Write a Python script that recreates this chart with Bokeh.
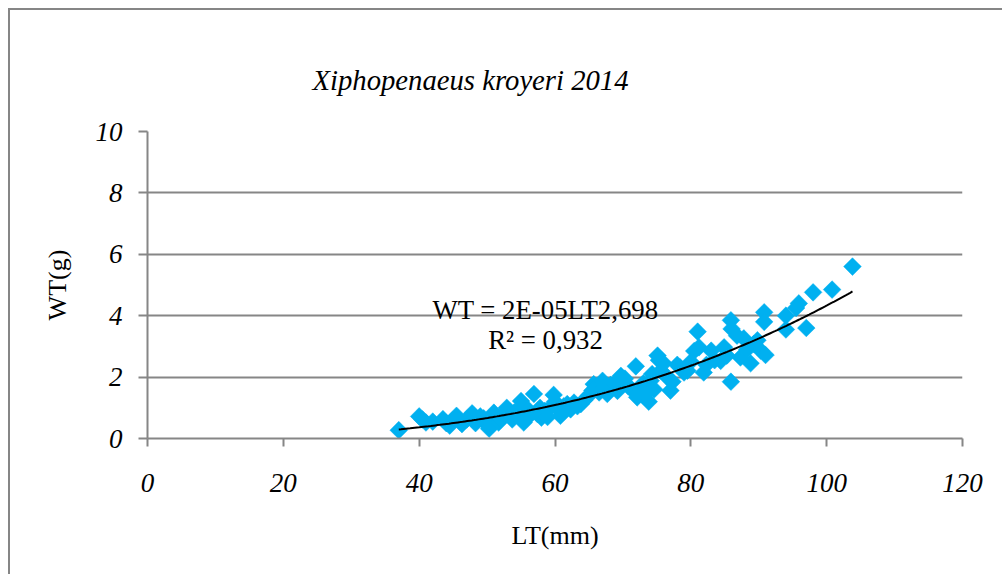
from bokeh.plotting import figure
from bokeh.models import Range1d, FixedTicker, Label
from bokeh.embed import file_html
from bokeh.resources import INLINE
import numpy as np

# ---- data ----
lt = [37, 40, 40.5, 41, 42, 43.5, 44, 44.5, 45, 45.5, 46, 46.3, 47, 47.8, 48, 48.3,
      49, 49.5, 50, 50.3, 50.5, 51, 51.5, 51.7, 52, 52.5, 52.9, 53.5, 53.7, 54, 54.5,
      55, 55.2, 55.4, 56, 56.5, 56.9, 57.4, 57.8, 58, 58.5, 58.9, 59.5, 59.8, 60, 60.5,
      60.8, 61.3, 61.8, 62.3, 62.8, 63.3, 63.8, 64.3, 65, 65.5, 65.7, 66, 66.5, 67,
      67.5, 67.7, 68.2, 68.8, 69.2, 69.7, 70.3, 70.8, 71.3, 71.9, 72.1, 72.6, 73.0,
      73.3, 73.8, 74.1, 74.3, 74.6, 75.1, 75.3, 75.6, 76, 76.5, 77, 77.3, 78, 78.4,
      79, 79.5, 80, 80.5, 81, 81.2, 81.9, 82.3, 83, 83.5, 84.4, 84.9, 85.3, 85.9, 86,
      85.9, 86.8, 87.3, 87.8, 88.3, 88.8, 89.3, 89.8, 90.3, 90.8, 90.8, 91, 94, 94,
      95.5, 95.9, 97, 98, 100.8, 103.8]
wt = [0.27, 0.72, 0.62, 0.52, 0.55, 0.63, 0.50, 0.42, 0.60, 0.74, 0.55, 0.47, 0.62,
      0.82, 0.60, 0.50, 0.72, 0.66, 0.45, 0.32, 0.60, 0.84, 0.70, 0.52, 0.62, 0.80,
      1.00, 0.72, 0.62, 0.85, 0.90, 1.22, 0.70, 0.52, 0.95, 0.80, 1.45, 0.80, 1.00,
      0.68, 0.90, 0.70, 1.05, 1.42, 1.20, 0.95, 0.74, 1.05, 1.12, 0.95, 1.17, 1.05,
      1.12, 1.25, 1.40, 1.56, 1.77, 1.65, 1.50, 1.88, 1.60, 1.45, 1.75, 1.80, 1.55,
      2.04, 1.95, 1.70, 1.60, 2.35, 1.34, 1.55, 1.80, 1.45, 1.20, 1.88, 2.10, 1.60,
      2.70, 2.55, 2.21, 2.45, 2.00, 1.56, 1.85, 2.40, 2.32, 2.15, 2.21, 2.50, 2.85,
      3.48, 2.97, 2.15, 2.40, 2.86, 2.55, 2.53, 2.97, 2.70, 3.85, 3.57, 1.85, 3.35,
      2.64, 3.26, 2.90, 2.45, 3.08, 3.20, 2.86, 4.11, 3.80, 2.72, 3.55, 4.00, 4.25,
      4.40, 3.60, 4.76, 4.85, 5.60]

x_ticks = [0, 20, 40, 60, 80, 100, 120]
y_ticks = [0, 2, 4, 6, 8, 10]
title_text = "Xiphopenaeus kroyeri 2014"
eq_text = "WT = 2E-05LT2,698"
r2_text = "R² = 0,932"
x_label = "LT(mm)"
y_label = "WT(g)"
# power trend line WT = a * LT^b (coefficient)
trend_a = 1.74e-5
trend_b = 2.698

SERIF = "Liberation Serif"
GRAY = "#868686"

p = figure(width=994, height=566, output_backend="svg", toolbar_location=None,
           x_range=Range1d(0, 120), y_range=Range1d(0, 10),
           min_border_left=137, min_border_right=42,
           min_border_top=121, min_border_bottom=138,
           title=title_text)
p.styles = {"margin-left": "8px", "margin-top": "8px",
            "border-left": f"2px solid {GRAY}", "border-top": f"2px solid {GRAY}"}
p.outline_line_color = None
p.background_fill_color = "white"
p.border_fill_color = "white"

p.title.align = "left"
p.title.offset = 165
p.title.standoff = 72
p.title.text_font = SERIF
p.title.text_font_style = "italic"
p.title.text_font_size = "28.7px"
p.title.text_color = "black"

p.xgrid.visible = False
p.ygrid.ticker = FixedTicker(ticks=y_ticks)
p.ygrid.grid_line_color = GRAY
p.ygrid.grid_line_width = 2

p.xaxis.ticker = FixedTicker(ticks=x_ticks)
p.yaxis.ticker = FixedTicker(ticks=y_ticks)
for ax in (p.xaxis[0], p.yaxis[0]):
    ax.axis_line_color = GRAY
    ax.axis_line_width = 2
    ax.major_tick_line_color = GRAY
    ax.major_tick_line_width = 2
    ax.major_tick_in = 0
    ax.minor_tick_line_color = None
    ax.major_label_text_font = SERIF
    ax.major_label_text_font_style = "italic"
    ax.major_label_text_font_size = "27px"
    ax.major_label_text_color = "black"
    ax.axis_label_text_font = SERIF
    ax.axis_label_text_font_style = "normal"
    ax.axis_label_text_font_size = "26px"
    ax.axis_label_text_color = "black"

p.xaxis.major_tick_out = 8
p.xaxis.major_label_standoff = 27
p.xaxis.axis_label = x_label
p.xaxis.axis_label_standoff = 26
p.yaxis.major_tick_out = 9
p.yaxis.major_label_standoff = 16
p.yaxis.axis_label = y_label
p.yaxis.axis_label_standoff = 21

p.scatter(lt, wt, marker="square", size=12.5, angle=np.pi / 4,
          fill_color="#00B0F0", line_color="#00B0F0", line_width=0.5)

tx = np.linspace(min(lt), max(lt), 200)
ty = trend_a * tx ** trend_b
p.line(tx, ty, line_color="black", line_width=2)

p.add_layout(Label(x=58.6, y=4.20, text=eq_text, text_align="center",
                   text_baseline="alphabetic", text_font=SERIF,
                   text_font_size="26.8px", text_color="black"))
p.add_layout(Label(x=58.6, y=3.22, text=r2_text, text_align="center",
                   text_baseline="alphabetic", text_font=SERIF,
                   text_font_size="26.8px", text_color="black"))

open("out.html", "w").write(file_html(p, INLINE))
